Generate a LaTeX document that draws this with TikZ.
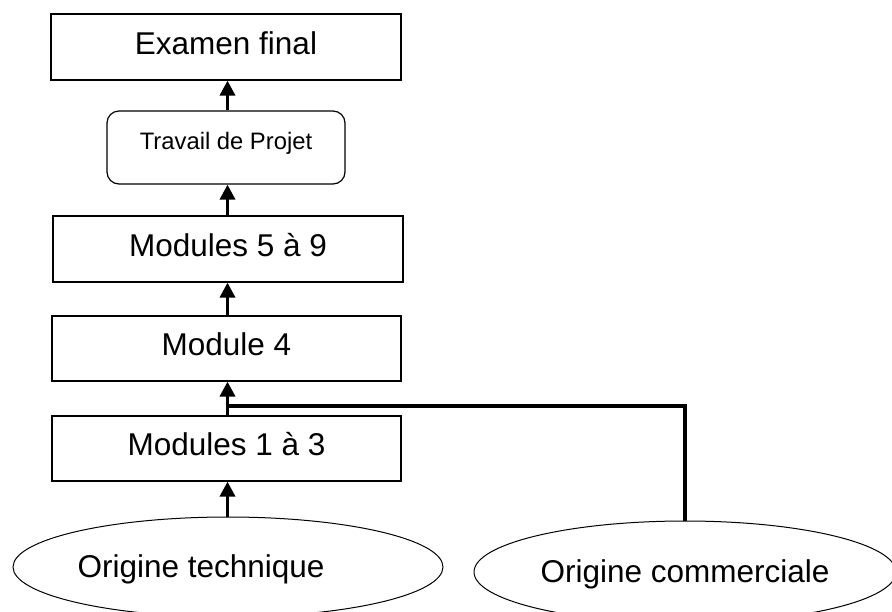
\documentclass[tikz,border=0pt]{standalone}
\usepackage{fontspec}
\setmainfont{Liberation Sans}
\usetikzlibrary{arrows.meta,shapes.geometric}
\begin{document}
\begin{tikzpicture}[x=0.5pt,y=-0.5pt,
  bigfont/.style={font=\fontsize{15.75}{18}\selectfont},
  box/.style={draw,line width=0.6pt,rectangle,inner sep=0pt,bigfont,text height=11pt,text depth=4pt},
  rbox/.style={draw,line width=0.6pt,rectangle,rounded corners=6pt,inner sep=0pt,font=\fontsize{11.9}{14}\selectfont,text height=8.5pt,text depth=7pt},
  oval/.style={draw,line width=0.5pt,ellipse,inner sep=0pt},
  arr/.style={line width=1.75pt,-{Triangle[width=7.5pt,length=7.5pt]}},
  link/.style={line width=1.6pt}]
\useasboundingbox (0,0) rectangle (892,611);
\node[box,minimum width=175pt,minimum height=33pt] (ex) at (226,47) {Examen final};
\node[rbox,minimum width=119pt,minimum height=36.5pt] (tp) at (226,147.5) {Travail de Projet};
\node[box,minimum width=175pt,minimum height=33pt] (m59) at (228,249) {Modules 5 à 9};
\node[box,minimum width=174.5pt,minimum height=32.5pt] (m4) at (226.5,348.5) {Module 4};
\node[box,minimum width=174.5pt,minimum height=32.5pt] (m13) at (226.5,448.5) {Modules 1 à 3};
\node[oval,minimum width=215pt,minimum height=50pt,label={[bigfont,xshift=-13.5pt,yshift=-1pt]center:Origine technique}] (tech) at (228,567) {};
\node[oval,minimum width=211pt,minimum height=51pt,label={[bigfont,yshift=-1pt]center:Origine commerciale}] (com) at (685,572) {};
\coordinate (j) at (227.5,406);
\draw[arr] (227.5,0 |- tp.north) -- (227.5,0 |- ex.south);
\draw[arr] (227.5,0 |- m59.north) -- (227.5,0 |- tp.south);
\draw[arr] (227.5,0 |- m4.north) -- (227.5,0 |- m59.south);
\draw[arr] (227.5,0 |- m13.north) -- (227.5,0 |- m4.south);
\draw[arr] (227.5,0 |- tech.north) -- (227.5,0 |- m13.south);
\draw[link] (com.north) |- (j);
\end{tikzpicture}
\end{document}
